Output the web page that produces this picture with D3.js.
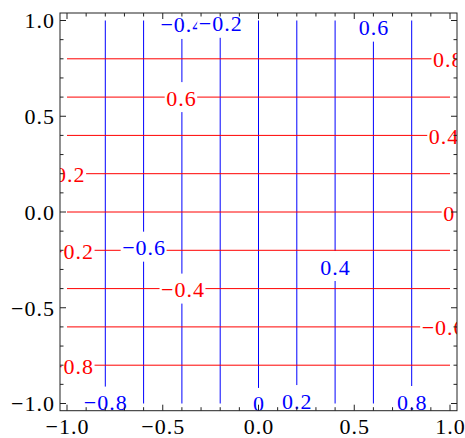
<!DOCTYPE html>
<html>
<head>
<meta charset="utf-8">
<script src="https://cdn.jsdelivr.net/npm/d3@7"></script>
<style>
  html, body { margin: 0; padding: 0; background: #fff; }
  svg { display: block; }
  text { font-family: "Liberation Serif", "Times New Roman", serif; letter-spacing: 1px; }
</style>
</head>
<body>
<script>
// Contour levels of f(x,y) = x (blue, vertical) and g(x,y) = y (red, horizontal)
const blueLevels = [-0.8, -0.6, -0.4, -0.2, 0, 0.2, 0.4, 0.6, 0.8];
const redLevels  = [-0.8, -0.6, -0.4, -0.2, 0, 0.2, 0.4, 0.6, 0.8];

// Where along each contour its label sits (y for blue, x for red), data units
const blueLabelAt = [-0.99, -0.181, 0.982, 0.988, -0.997, -0.982, -0.282, 0.968, -0.987];
const redLabelAt  = [-0.976, 0.964, -0.397, -0.976, 0.993, -0.985, 0.966, -0.405, 0.988];

// Frame ticks
const majorTicks = [-1.0, -0.5, 0.0, 0.5, 1.0];
const minorTicks = d3.range(-10, 11).map(i => i / 10);

const W = 465, H = 438;
const fmt = v => {
  const s = v === 0 ? "0" : String(Math.abs(v));
  return (v < 0 ? "\u2212" : "") + s;
};
const tickFmt = v => (v < 0 ? "\u2212" : "") + Math.abs(v).toFixed(1);

const x = d3.scaleLinear().domain([-1, 1]).range([67, 450]);
const y = d3.scaleLinear().domain([-1, 1]).range([403.5, 20.5]);
const pad = 7;
const fx0 = x(-1) - pad, fx1 = x(1) + pad;
const fy0 = y(1) - 7.5, fy1 = y(-1) + 7.2;

const svg = d3.select("body").append("svg").attr("width", W).attr("height", H);

svg.append("defs").append("clipPath").attr("id", "plotClip")
  .append("rect").attr("x", fx0).attr("y", fy0)
  .attr("width", fx1 - fx0).attr("height", fy1 - fy0);

const plot = svg.append("g").attr("clip-path", "url(#plotClip)");

// contour lines
plot.append("g").selectAll("line").data(blueLevels).join("line")
  .attr("x1", d => x(d)).attr("x2", d => x(d))
  .attr("y1", y(1)).attr("y2", y(-1))
  .attr("stroke", "#0000ff").attr("stroke-width", 1);

plot.append("g").selectAll("line").data(redLevels).join("line")
  .attr("y1", d => y(d)).attr("y2", d => y(d))
  .attr("x1", x(-1)).attr("x2", x(1))
  .attr("stroke", "#ff0000").attr("stroke-width", 1);

// contour labels with white backing
const FS = 22;
function label(g, cx, cy, txt, color) {
  const t = g.append("text").attr("x", cx + 0.5).attr("y", cy + 8.5)
    .attr("text-anchor", "middle").attr("font-size", FS)
    .attr("fill", color).text(txt);
  const w = t.node().getComputedTextLength() - 1;
  g.insert("rect", "text:last-of-type")
    .attr("x", cx - w / 2 - 1.5).attr("y", cy - 15)
    .attr("width", w + 3).attr("height", 30).attr("fill", "#fff");
}
const labels = plot.append("g");
blueLevels.forEach((lv, i) => {
  const g = labels.append("g");
  label(g, x(lv), y(blueLabelAt[i]), fmt(lv), "#0000ff");
});
redLevels.forEach((lv, i) => {
  const g = labels.append("g");
  label(g, x(redLabelAt[i]), y(lv), fmt(lv), "#ff0000");
});

// frame
const frame = svg.append("g").attr("stroke", "#222").attr("stroke-width", 1);
frame.append("rect").attr("x", fx0).attr("y", fy0)
  .attr("width", fx1 - fx0).attr("height", fy1 - fy0).attr("fill", "none");

const isMajor = v => majorTicks.some(m => Math.abs(m - v) < 1e-9);
const tl = v => isMajor(v) ? 6 : 3.5;
minorTicks.forEach(v => {
  const px = x(v), py = y(v), L = tl(v);
  frame.append("line").attr("x1", px).attr("x2", px).attr("y1", fy1).attr("y2", fy1 - L);
  frame.append("line").attr("x1", px).attr("x2", px).attr("y1", fy0).attr("y2", fy0 + L);
  frame.append("line").attr("y1", py).attr("y2", py).attr("x1", fx0).attr("x2", fx0 + L);
  frame.append("line").attr("y1", py).attr("y2", py).attr("x1", fx1).attr("x2", fx1 - L);
});

// tick labels
svg.append("g").selectAll("text").data(majorTicks).join("text")
  .attr("x", d => x(d) + 0.5).attr("y", 433.5)
  .attr("text-anchor", "middle").attr("font-size", FS).attr("fill", "#000")
  .text(tickFmt);
svg.append("g").selectAll("text").data(majorTicks).join("text")
  .attr("x", 55).attr("y", d => y(d) + 7.8)
  .attr("text-anchor", "end").attr("font-size", FS).attr("fill", "#000")
  .text(tickFmt);
</script>
</body>
</html>
